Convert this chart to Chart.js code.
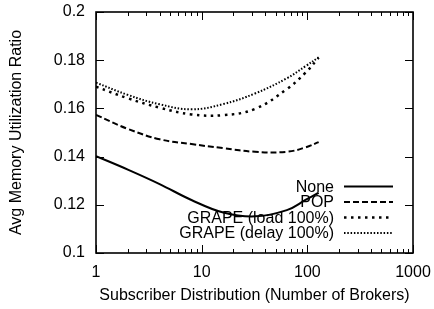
<!DOCTYPE html>
<html><head><meta charset="utf-8">
<script src="https://cdn.jsdelivr.net/npm/chart.js@4/dist/chart.umd.min.js"></script>
<style>html,body{margin:0;padding:0;background:#fff}#wrap{width:434px;height:309px;position:relative}</style>
</head><body><div id="wrap"><canvas id="c"></canvas></div>
<script>
const brokers = [1, 2, 4, 8, 16, 32, 64, 96, 128];
const seriesNames = ['None', 'POP', 'GRAPE (load 100%)', 'GRAPE (delay 100%)'];
const noneVals  = [0.1402, 0.1346, 0.1286, 0.1220, 0.1168, 0.1152, 0.1178, 0.1220, 0.1250];
const popVals   = [0.1573, 0.1515, 0.1472, 0.1452, 0.1435, 0.1420, 0.1420, 0.1438, 0.1460];
const loadVals  = [0.1690, 0.1642, 0.1603, 0.1575, 0.1572, 0.1598, 0.1680, 0.1748, 0.1810];
const delayVals = [0.1707, 0.1656, 0.1617, 0.1596, 0.1618, 0.1662, 0.1725, 0.1775, 0.1812];
const xMajorTicks = [1, 10, 100, 1000];
const yTickValues = [0.1, 0.12, 0.14, 0.16, 0.18, 0.2];

const FONT = 'Liberation Sans, Arial, Helvetica, sans-serif';
const allSeries = [noneVals, popVals, loadVals, delayVals];
const styles = [
  {borderWidth: 2, borderDash: []},
  {borderWidth: 2, borderDash: [6, 3]},
  {borderWidth: 2.5, borderDash: [2.5, 4.5]},
  {borderWidth: 2, borderDash: [1.5, 1.8]}
];

const minorX = [];
for (let d = 1; d < 1000; d *= 10) for (let k = 1; k < 10; k++) minorX.push(k * d);
minorX.push(1000);

const frame = {
  id: 'frame',
  afterDatasetsDraw(chart) {
    const ctx = chart.ctx, a = chart.chartArea;
    const xs = chart.scales.x, ys = chart.scales.y;
    ctx.save();
    ctx.strokeStyle = '#000';
    ctx.setLineDash([]);
    ctx.lineWidth = 1;
    ctx.beginPath();
    yTickValues.forEach(v => {
      const y = Math.round(ys.getPixelForValue(v)) + 0.5;
      ctx.moveTo(a.left, y); ctx.lineTo(a.left + 8, y);
      ctx.moveTo(a.right, y); ctx.lineTo(a.right - 8, y);
    });
    minorX.forEach(v => {
      const x = Math.round(xs.getPixelForValue(v)) + 0.5;
      const len = xMajorTicks.includes(v) ? 8 : 4;
      ctx.moveTo(x, a.bottom); ctx.lineTo(x, a.bottom - len);
      ctx.moveTo(x, a.top); ctx.lineTo(x, a.top + len);
    });
    ctx.stroke();
    ctx.lineWidth = 1.6;
    ctx.strokeRect(a.left, a.top, a.right - a.left, a.bottom - a.top);

    ctx.font = '16px ' + FONT;
    ctx.textAlign = 'right';
    ctx.textBaseline = 'middle';
    chart.data.datasets.forEach((ds, i) => {
      const y = a.bottom - 66.5 + i * 15.5;
      ctx.fillStyle = '#000';
      ctx.fillText(ds.label, a.right - 79, y + 1);
      ctx.beginPath();
      ctx.setLineDash(ds.borderDash || []);
      ctx.lineWidth = ds.borderWidth;
      ctx.moveTo(a.right - 69, y);
      ctx.lineTo(a.right - 20, y);
      ctx.stroke();
    });
    ctx.restore();
  }
};

new Chart(document.getElementById('c'), {
  type: 'line',
  data: {
    datasets: allSeries.map((vals, i) => ({
      label: seriesNames[i],
      data: brokers.map((b, j) => ({x: b, y: vals[j]})),
      borderColor: '#000',
      borderWidth: styles[i].borderWidth,
      borderDash: styles[i].borderDash,
      borderCapStyle: 'butt',
      pointRadius: 0,
      tension: 0.4,
      fill: false
    }))
  },
  options: {
    responsive: true,
    maintainAspectRatio: false,
    animation: false,
    layout: {padding: {top: 12, right: 21, left: 0, bottom: 0}},
    plugins: {legend: {display: false}, tooltip: {enabled: false}},
    scales: {
      x: {
        type: 'logarithmic', min: 1, max: 1000,
        afterBuildTicks: s => { s.ticks = minorX.map(v => ({value: v})); },
        afterFit: s => { s.height = 56; s.paddingLeft = 0; s.paddingRight = 0; s.paddingTop = 0; s.paddingBottom = 0; },
        grid: {display: false, drawTicks: false},
        border: {display: false},
        ticks: {
          autoSkip: false, maxRotation: 0, minRotation: 0, padding: 10,
          color: '#000', font: {family: FONT, size: 16},
          callback: v => xMajorTicks.includes(v) ? String(v) : ''
        },
        title: {display: true, text: 'Subscriber Distribution (Number of Brokers)', color: '#000',
                font: {family: FONT, size: 16}, padding: {top: 0, bottom: 4}}
      },
      y: {
        min: 0.1, max: 0.2,
        afterBuildTicks: s => { s.ticks = yTickValues.map(v => ({value: v})); },
        afterFit: s => { s.width = 96; s.paddingLeft = 0; s.paddingRight = 0; s.paddingTop = 0; s.paddingBottom = 0; },
        grid: {display: false, drawTicks: false},
        border: {display: false},
        ticks: {
          padding: 11, color: '#000', font: {family: FONT, size: 16},
          callback: v => String(Math.round(v * 100) / 100)
        },
        title: {display: true, text: 'Avg Memory Utilization Ratio', color: '#000',
                font: {family: FONT, size: 16}, padding: {top: 7, bottom: 0}}
      }
    }
  },
  plugins: [frame]
});
</script>
</body></html>
